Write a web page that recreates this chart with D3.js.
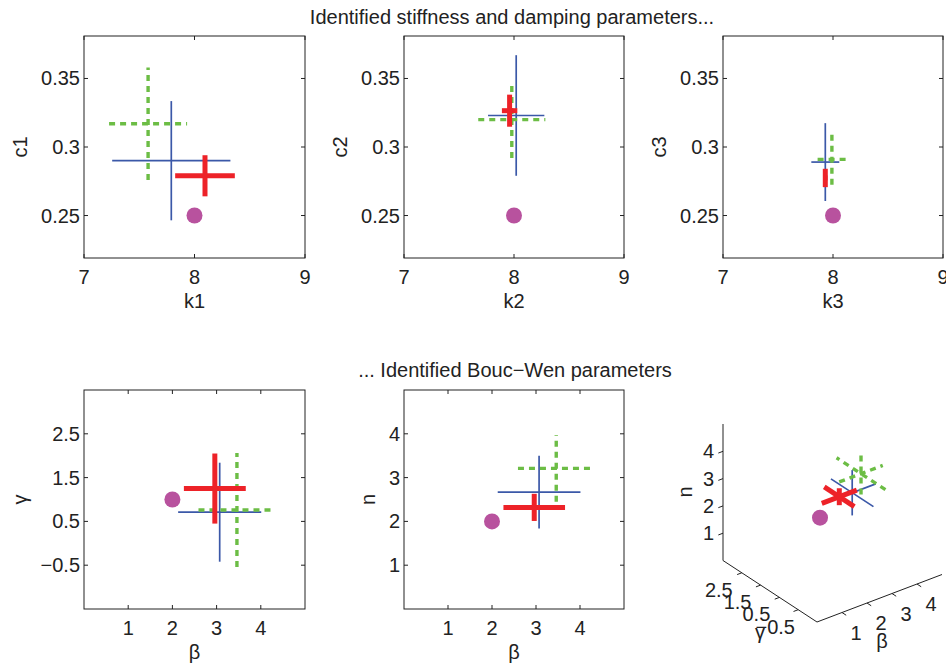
<!DOCTYPE html>
<html>
<head>
<meta charset="utf-8">
<script src="https://cdn.jsdelivr.net/npm/d3@7"></script>
<style>
body{margin:0;background:#fff;}
text{font-family:"Liberation Sans",Arial,sans-serif;font-size:20px;fill:#222;}
</style>
</head>
<body>
<svg width="946" height="667"></svg>
<script>
// parameters: k1 c1 k2 c2 k3 c3 beta gamma n
var paramNames = ["k1","c1","k2","c2","k3","c3","β","γ","n"];
var trueValues = [8, 0.25, 8, 0.25, 8, 0.25, 2, 1, 2];

var blueMean  = [7.79, 0.290, 8.02, 0.323, 7.93, 0.289, 3.07, 0.71, 2.67];
var blueErr   = [0.535, 0.0435, 0.256, 0.044, 0.127, 0.0284, 0.94, 1.13, 0.83];
var greenMean = [7.58, 0.317, 7.98, 0.320, 7.99, 0.291, 3.46, 0.76, 3.21];
var greenErr  = [0.353, 0.041, 0.305, 0.028, 0.13, 0.0185, 0.87, 1.30, 0.76];
var redMean   = [8.095, 0.279, 7.96, 0.3265, 7.93, 0.2774, 2.96, 1.25, 2.32];
var redErr    = [0.27, 0.015, 0.07, 0.0117, 0.02, 0.0067, 0.70, 0.80, 0.31];

var kTicks = [7, 8, 9];
var cTicks = [0.25, 0.3, 0.35];
var betaTicks = [1, 2, 3, 4];
var gammaTicks = [-0.5, 0.5, 1.5, 2.5];
var nTicks = [1, 2, 3, 4];

var estimates = [
    {mean: blueMean,  err: blueErr,  color: "#3b58a8", width: 1.7, dash: null},
    {mean: greenMean, err: greenErr, color: "#6cbd45", width: 3.4, dash: "6,5"},
    {mean: redMean,   err: redErr,   color: "#ed2228", width: 5,   dash: null}
];
var trueColor = "#b8529e";

var svg = d3.select("svg");

function fmt(v){
    return v < 0 ? "\u2212" + Math.abs(v) : String(v);
}

function styleLine(sel, est){
    sel.attr("stroke", est.color)
       .attr("stroke-width", est.width)
       .attr("fill", "none");
    if(est.dash) sel.attr("stroke-dasharray", est.dash);
    return sel;
}

function drawPanel(left, top, w, h, xDomain, yDomain, xTicks, yTicks, xi, yi){
    var x = d3.scaleLinear().domain(xDomain).range([left, left + w]);
    var y = d3.scaleLinear().domain(yDomain).range([top + h, top]);
    var g = svg.append("g");

    // ticks on all four sides, pointing inward
    xTicks.forEach(function(t){
        g.append("line").attr("x1", x(t)).attr("x2", x(t)).attr("y1", top + h).attr("y2", top + h - 4).attr("stroke", "#222");
        g.append("line").attr("x1", x(t)).attr("x2", x(t)).attr("y1", top).attr("y2", top + 4).attr("stroke", "#222");
        g.append("text").attr("x", x(t)).attr("y", top + h + 25.5).attr("text-anchor", "middle").text(fmt(t));
    });
    var maxW = 0;
    yTicks.forEach(function(t){
        g.append("line").attr("x1", left).attr("x2", left + 4).attr("y1", y(t)).attr("y2", y(t)).attr("stroke", "#222");
        g.append("line").attr("x1", left + w).attr("x2", left + w - 4).attr("y1", y(t)).attr("y2", y(t)).attr("stroke", "#222");
        var tx = g.append("text").attr("x", left - 4).attr("y", y(t)).attr("dy", "0.35em").attr("text-anchor", "end").text(fmt(t));
        maxW = Math.max(maxW, tx.node().getComputedTextLength());
    });

    g.append("rect").attr("x", left).attr("y", top).attr("width", w).attr("height", h)
        .attr("fill", "none").attr("stroke", "#222").attr("stroke-width", 1);

    g.append("text").attr("x", x((xDomain[0] + xDomain[1]) / 2)).attr("y", top + h + 50)
        .attr("text-anchor", "middle").text(paramNames[xi]);
    var lx = left - 4 - maxW - 14;
    g.append("text").attr("transform", "translate(" + lx + "," + (top + h / 2) + ") rotate(-90)")
        .attr("text-anchor", "middle").text(paramNames[yi]);

    estimates.forEach(function(est){
        var cx = est.mean[xi], cy = est.mean[yi];
        styleLine(g.append("line")
            .attr("x1", x(cx - est.err[xi])).attr("x2", x(cx + est.err[xi]))
            .attr("y1", y(cy)).attr("y2", y(cy)), est);
        styleLine(g.append("line")
            .attr("x1", x(cx)).attr("x2", x(cx))
            .attr("y1", y(cy - est.err[yi])).attr("y2", y(cy + est.err[yi])), est);
    });

    g.append("circle").attr("cx", x(trueValues[xi])).attr("cy", y(trueValues[yi]))
        .attr("r", 8).attr("fill", trueColor);
}

// stiffness / damping row
drawPanel(84, 36, 221, 222, [7, 9], [0.219, 0.381], kTicks, cTicks, 0, 1);
drawPanel(404, 36, 220, 222, [7, 9], [0.219, 0.381], kTicks, cTicks, 2, 3);
drawPanel(723, 36, 220, 222, [7, 9], [0.219, 0.381], kTicks, cTicks, 4, 5);

// Bouc-Wen row
drawPanel(84, 390, 221, 219, [0, 5], [-1.5, 3.5], betaTicks, gammaTicks, 6, 7);
drawPanel(404, 390, 220, 219, [0, 5], [0, 5], betaTicks, nTicks, 6, 8);

svg.append("text").attr("x", 512).attr("y", 24).attr("text-anchor", "middle")
    .text("Identified stiffness and damping parameters...");
svg.append("text").attr("x", 515).attr("y", 377).attr("text-anchor", "middle")
    .text("... Identified Bouc\u2212Wen parameters");

// 3D view of beta, gamma, n
var beta3 = d3.scaleLinear().domain([0, 5]).range([0, 1]);
var gamma3 = d3.scaleLinear().domain([-1.5, 3.5]).range([0, 1]);
var n3 = d3.scaleLinear().domain([0, 5]).range([0, 1]);
var corner = [817, 622], bVec = [125, -47.5], gVec = [-94, -61.5], nVec = [0, -136.5];

function proj(b, gm, n){
    var u = beta3(b), v = gamma3(gm), w = n3(n);
    return [corner[0] + u * bVec[0] + v * gVec[0] + w * nVec[0],
            corner[1] + u * bVec[1] + v * gVec[1] + w * nVec[1]];
}

var g3 = svg.append("g");
function seg(p, q){
    return g3.append("line").attr("x1", p[0]).attr("y1", p[1]).attr("x2", q[0]).attr("y2", q[1]);
}

seg(proj(0, 3.5, 0), proj(0, 3.5, 5)).attr("stroke", "#222");
seg(proj(0, 3.5, 0), proj(0, -1.5, 0)).attr("stroke", "#222");
seg(proj(0, -1.5, 0), proj(5, -1.5, 0)).attr("stroke", "#222");

var bLen = Math.hypot(bVec[0], bVec[1]), gLen = Math.hypot(gVec[0], gVec[1]);
var bOut = [-bVec[0] / bLen * 5, -bVec[1] / bLen * 5];
var gOut = [-gVec[0] / gLen * 5, -gVec[1] / gLen * 5];

nTicks.forEach(function(t){
    var p = proj(0, 3.5, t);
    seg(p, [p[0] + bOut[0], p[1] + bOut[1]]).attr("stroke", "#222");
    g3.append("text").attr("x", p[0] - 9).attr("y", p[1]).attr("dy", "0.35em")
        .attr("text-anchor", "end").text(fmt(t));
});
gammaTicks.forEach(function(t){
    var p = proj(0, t, 0);
    seg(p, [p[0] + bOut[0], p[1] + bOut[1]]).attr("stroke", "#222");
    g3.append("text").attr("x", p[0] - 23).attr("y", p[1] + 17).attr("dy", "0.35em")
        .attr("text-anchor", "middle").text(fmt(t));
});
betaTicks.forEach(function(t){
    var p = proj(t, -1.5, 0);
    seg(p, [p[0] + gOut[0], p[1] + gOut[1]]).attr("stroke", "#222");
    g3.append("text").attr("x", p[0] + 14).attr("y", p[1] + 20).attr("dy", "0.35em")
        .attr("text-anchor", "middle").text(fmt(t));
});

g3.append("text").attr("transform", "translate(692,492) rotate(-90)").attr("text-anchor", "middle").text(paramNames[8]);
g3.append("text").attr("x", 760).attr("y", 639).attr("text-anchor", "middle").text(paramNames[7]);
g3.append("text").attr("x", 882).attr("y", 648).attr("text-anchor", "middle").text(paramNames[6]);

estimates.forEach(function(est){
    var b = est.mean[6], gm = est.mean[7], n = est.mean[8];
    var eb = est.err[6], eg = est.err[7], en = est.err[8];
    styleLine(seg(proj(b - eb, gm, n), proj(b + eb, gm, n)), est);
    styleLine(seg(proj(b, gm - eg, n), proj(b, gm + eg, n)), est);
    styleLine(seg(proj(b, gm, n - en), proj(b, gm, n + en)), est);
});

var tp = proj(trueValues[6], trueValues[7], trueValues[8]);
g3.append("circle").attr("cx", tp[0]).attr("cy", tp[1]).attr("r", 8).attr("fill", trueColor);
</script>
</body>
</html>
